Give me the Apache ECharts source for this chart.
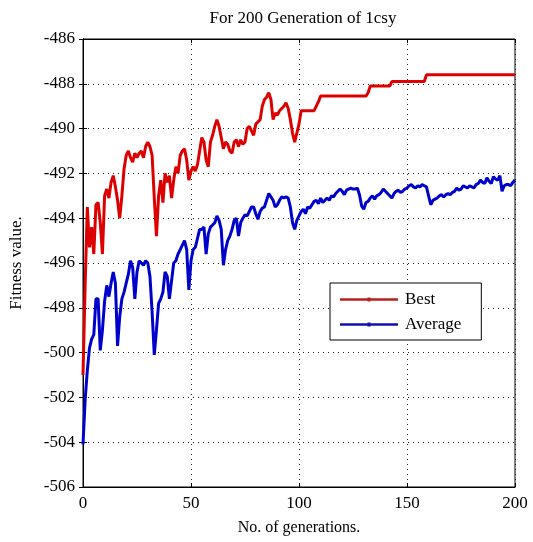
<!DOCTYPE html>
<html>
<head>
<meta charset="utf-8">
<script src="https://cdn.jsdelivr.net/npm/echarts@6/dist/echarts.min.js"></script>
<style>
  html, body { margin: 0; padding: 0; background: #fff; }
  #chart { width: 533px; height: 542px; }
</style>
</head>
<body>
<div id="chart"></div>
<script>
// Per-generation fitness of the 1csy run (generation 0..200)
const bestFitness = [
  -501.0, -497.0, -493.5, -495.3, -494.4, -495.6, -493.4, -493.3, -494.2, -495.6,
  -493.0, -492.7, -493.1, -492.4, -492.1, -492.6, -493.2, -494.0, -493.0, -491.8,
  -491.2, -491.0, -491.3, -491.5, -491.1, -491.3, -491.1, -491.0, -491.3, -490.8,
  -490.6, -490.8, -491.2, -493.1, -494.8, -493.0, -492.3, -493.3, -492.0, -492.4,
  -492.1, -493.1, -492.3, -491.7, -492.0, -491.2, -491.0, -490.9, -491.4, -492.3,
  -491.9, -491.7, -491.9, -491.6, -491.0, -490.4, -490.6, -491.4, -491.7, -490.6,
  -490.3, -489.9, -489.6, -489.9, -490.4, -490.9, -490.6, -490.7, -491.0, -491.1,
  -490.6, -490.5, -490.8, -490.5, -490.7, -490.6, -490.0, -489.9, -490.1, -490.3,
  -489.8, -489.7, -489.6, -489.0, -488.7, -488.6, -488.4, -488.7, -489.6, -489.3,
  -489.4, -489.2, -489.1, -489.0, -488.85, -489.1, -489.6, -490.2, -490.6, -490.2,
  -489.8, -489.2, -489.2, -489.2, -489.2, -489.2, -489.2, -489.2, -489.0, -488.8,
  -488.55, -488.55, -488.55, -488.55, -488.55, -488.55, -488.55, -488.55, -488.55, -488.55,
  -488.55, -488.55, -488.55, -488.55, -488.55, -488.55, -488.55, -488.55, -488.55, -488.55,
  -488.55, -488.55, -488.4, -488.1, -488.1, -488.1, -488.1, -488.1, -488.1, -488.1,
  -488.1, -488.1, -488.1, -487.9, -487.9, -487.9, -487.9, -487.9, -487.9, -487.9,
  -487.9, -487.9, -487.9, -487.9, -487.9, -487.9, -487.9, -487.9, -487.9, -487.6,
  -487.6, -487.6, -487.6, -487.6, -487.6, -487.6, -487.6, -487.6, -487.6, -487.6,
  -487.6, -487.6, -487.6, -487.6, -487.6, -487.6, -487.6, -487.6, -487.6, -487.6,
  -487.6, -487.6, -487.6, -487.6, -487.6, -487.6, -487.6, -487.6, -487.6, -487.6,
  -487.6, -487.6, -487.6, -487.6, -487.6, -487.6, -487.6, -487.6, -487.6, -487.6,
  -487.6
];

const averageFitness = [
  -504.1, -502.1, -500.8, -499.8, -499.4, -499.2, -497.6, -497.6, -499.9, -499.0,
  -497.7, -497.0, -497.5, -496.9, -496.4, -496.9, -499.7, -498.4, -497.6, -497.3,
  -496.9, -496.5, -495.9, -496.2, -497.6, -496.4, -495.9, -496.0, -496.1, -495.9,
  -496.0, -496.6, -498.2, -500.1, -499.0, -497.8, -497.6, -497.3, -496.4, -496.6,
  -497.6, -496.8, -496.0, -495.9, -495.6, -495.4, -495.2, -495.0, -495.4, -497.2,
  -495.9, -495.4, -495.3, -494.9, -494.5, -494.5, -494.4, -495.6, -494.7, -494.4,
  -494.3, -494.2, -493.9, -494.1, -494.5, -496.1, -495.4, -495.0, -494.8, -494.5,
  -494.1, -494.0, -494.8, -494.2, -494.0, -493.85, -493.9, -493.7, -493.5, -493.5,
  -493.8, -494.05, -493.7, -493.55, -493.5, -493.2, -492.9, -493.05, -493.2, -493.5,
  -493.4, -493.2, -493.05, -493.1, -493.05, -493.1, -493.5, -494.2, -494.5, -494.1,
  -493.9, -493.7, -493.6, -493.8, -493.5, -493.55, -493.4, -493.25, -493.2, -493.35,
  -493.1, -493.3, -493.2, -493.1, -493.2, -493.0, -493.05, -492.9, -492.8, -492.7,
  -492.8, -492.95, -492.75, -492.7, -492.65, -492.7, -492.7, -492.65, -492.95, -493.45,
  -493.6, -493.3, -493.25, -493.1, -493.0, -493.15, -493.0, -492.95, -492.85, -492.7,
  -492.8, -492.9, -493.0, -493.1, -492.9, -492.8, -492.75, -492.85, -492.8, -492.7,
  -492.65, -492.55, -492.5, -492.6, -492.65, -492.55, -492.6, -492.5, -492.55, -492.6,
  -493.0, -493.4, -493.2, -493.15, -493.1, -493.0, -492.95, -493.05, -492.95, -492.9,
  -492.95, -492.85, -492.8, -492.65, -492.75, -492.7, -492.55, -492.6, -492.65, -492.55,
  -492.6, -492.65, -492.5, -492.45, -492.3, -492.4, -492.45, -492.2, -492.35, -492.45,
  -492.15, -492.25, -492.3, -492.1, -492.8, -492.55, -492.5, -492.5, -492.55, -492.4,
  -492.3
];

const generations = bestFitness.map((_, i) => i);
const seriesNames = ['Best', 'Average'];
const titleText = 'For 200 Generation of 1csy';
const xAxisName = 'No. of generations.';
const yAxisName = 'Fitness value.';

const serif = '"Liberation Serif", "DejaVu Serif", serif';
const chart = echarts.init(document.getElementById('chart'), null, { renderer: 'canvas' });

const gridDotted = { show: true, lineStyle: { color: '#222', type: [1, 4], width: 1 } };
const innerTicks = { show: true, inside: true, length: 4, lineStyle: { color: '#000' } };
// Legend key: a line segment with a small point marker at its middle
const legendKey = 'path://M0,1.3 L58,1.3 L58,3.7 L0,3.7 Z M27.5,0.5 L30.5,0.5 L30.5,4.5 L27.5,4.5 Z';

chart.setOption({
  backgroundColor: '#fff',
  animation: false,
  title: {
    text: titleText,
    left: 298, top: 5, textAlign: 'center',
    textStyle: { fontFamily: serif, fontSize: 17, fontWeight: 'normal', color: '#000' }
  },
  legend: {
    orient: 'vertical',
    left: 330, top: 283,
    padding: [8, 20, 7, 10],
    itemGap: 8,
    itemWidth: 58, itemHeight: 5,
    backgroundColor: '#fff',
    borderColor: '#000', borderWidth: 1, borderRadius: 0,
    textStyle: { fontFamily: serif, fontSize: 17, color: '#000', padding: [0, 0, 0, 2] },
    data: [
      { name: seriesNames[0], icon: legendKey, itemStyle: { color: '#b82020' } },
      { name: seriesNames[1], icon: legendKey, itemStyle: { color: '#1010b0' } }
    ]
  },
  grid: {
    left: 82, right: 18, top: 39, bottom: 55,
    show: true, borderColor: '#000', borderWidth: 1, backgroundColor: '#fff'
  },
  xAxis: [{
    type: 'value', min: 0, max: 200, interval: 50,
    name: xAxisName, nameLocation: 'middle', nameGap: 33,
    nameTextStyle: { fontFamily: serif, fontSize: 16, color: '#000' },
    axisLine: { show: true, lineStyle: { color: '#000' } },
    axisTick: innerTicks,
    axisLabel: { fontFamily: serif, fontSize: 17, color: '#000', margin: 8 },
    splitLine: gridDotted
  }, {
    type: 'value', min: 0, max: 200, interval: 50, position: 'top',
    axisLine: { show: true, lineStyle: { color: '#000' } },
    axisTick: innerTicks,
    axisLabel: { show: false }, splitLine: { show: false }
  }],
  yAxis: [{
    type: 'value', min: -506, max: -486, interval: 2,
    name: yAxisName, nameLocation: 'middle', nameGap: 58, nameRotate: 90,
    nameTextStyle: { fontFamily: serif, fontSize: 17, color: '#000' },
    axisLine: { show: true, lineStyle: { color: '#000' } },
    axisTick: innerTicks,
    axisLabel: { fontFamily: serif, fontSize: 17, color: '#000', margin: 8 },
    splitLine: gridDotted
  }, {
    type: 'value', min: -506, max: -486, interval: 2, position: 'right',
    axisLine: { show: true, lineStyle: { color: '#000' } },
    axisTick: innerTicks,
    axisLabel: { show: false }, splitLine: { show: false }
  }],
  series: [{
    name: seriesNames[0], type: 'line',
    data: generations.map(g => [g, bestFitness[g]]),
    symbol: 'none',
    color: '#dd0000',
    lineStyle: { color: '#dd0000', width: 3 },
    z: 3
  }, {
    name: seriesNames[1], type: 'line',
    data: generations.map(g => [g, averageFitness[g]]),
    symbol: 'none',
    color: '#0000cc',
    lineStyle: { color: '#0000cc', width: 3 },
    z: 3
  }]
});
</script>
</body>
</html>
